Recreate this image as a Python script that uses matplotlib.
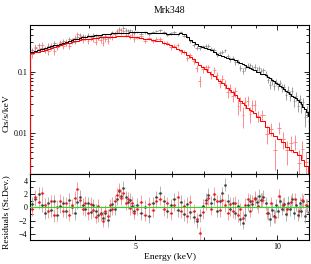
import numpy as np
import matplotlib
matplotlib.use("Agg")
import matplotlib.pyplot as plt
from matplotlib.ticker import FixedLocator, FixedFormatter, NullFormatter, MultipleLocator, LogLocator

# ---------------- data ----------------
black_e = [3.025, 3.075, 3.125, 3.175, 3.225, 3.275, 3.325, 3.375, 3.425, 3.475,
           3.525, 3.575, 3.625, 3.675, 3.725, 3.775, 3.825, 3.875, 3.925, 3.975,
           4.025, 4.075, 4.125, 4.175, 4.225, 4.275, 4.325, 4.375, 4.425, 4.475,
           4.525, 4.575, 4.625, 4.675, 4.725, 4.775, 4.825, 4.875, 4.925, 4.975,
           5.05, 5.15, 5.25, 5.35, 5.45, 5.55, 5.65, 5.75, 5.85, 5.95,
           6.05, 6.15, 6.25, 6.35, 6.45, 6.55, 6.65, 6.75, 6.85, 6.95,
           7.05, 7.15, 7.25, 7.35, 7.45, 7.55, 7.65, 7.75, 7.85, 7.95,
           8.05, 8.15, 8.25, 8.35, 8.45, 8.55, 8.65, 8.75, 8.85, 8.95,
           9.05, 9.15, 9.25, 9.35, 9.45, 9.55, 9.65, 9.75, 9.85, 9.95,
           10.05, 10.15, 10.25, 10.35, 10.45, 10.55, 10.65, 10.75, 10.85, 10.95,
           11.05, 11.15, 11.25, 11.35, 11.45, 11.55, 11.65]
black_w = [0.05] * 40 + [0.1] * 67
black_model = [0.210, 0.218, 0.226, 0.234, 0.242, 0.250, 0.258, 0.267, 0.276, 0.285,
               0.295, 0.305, 0.314, 0.323, 0.333, 0.343, 0.352, 0.362, 0.369, 0.374,
               0.379, 0.384, 0.389, 0.394, 0.400, 0.404, 0.408, 0.411, 0.414, 0.418,
               0.421, 0.425, 0.427, 0.428, 0.430, 0.431, 0.432, 0.433, 0.434, 0.435,
               0.435, 0.434, 0.433, 0.431, 0.428, 0.425, 0.421, 0.417, 0.414, 0.412,
               0.411, 0.414, 0.421, 0.404, 0.362, 0.325, 0.300, 0.281, 0.264, 0.253,
               0.242, 0.231, 0.221, 0.207, 0.195, 0.186, 0.180, 0.174, 0.168, 0.163,
               0.159, 0.152, 0.144, 0.137, 0.131, 0.126, 0.121, 0.116, 0.111, 0.105,
               0.100, 0.097, 0.093, 0.090, 0.087, 0.083, 0.078, 0.074, 0.070, 0.066,
               0.063, 0.059, 0.056, 0.052, 0.049, 0.046, 0.043, 0.041, 0.039, 0.037,
               0.035, 0.032, 0.030, 0.027, 0.025, 0.022, 0.019]
black_resid = [0.5, 1.2, 2.0, 0.3, -0.8, 0.6, -0.4, 0.9, -1.1, 0.2,
               0.7, -0.6, 1.1, 0.0, -0.9, 0.8, 1.6, 0.4, -0.3, 0.6,
               -0.7, 0.3, -0.5, -1.2, -0.8, -1.6, -0.9, -1.9, -0.4, 0.5,
               -0.2, 1.3, 2.4, 1.7, 2.9, 1.5, 0.8, 1.1, 0.2, -0.5,
               0.4, -0.9, 0.1, -1.3, 0.6, 1.5, 2.2, 0.9, -0.6, 0.3,
               1.2, -0.4, 0.8, -1.0, 0.5, -0.7, -1.4, -2.1, -1.2, 0.2,
               1.1, 1.9, 0.7, 1.3, -0.5, 0.9, 2.1, 3.4, 1.0, -0.3,
               0.6, -0.8, 0.2, -1.7, -2.3, -1.1, 0.4, 1.0, 0.5, 1.4,
               0.8, 1.7, 1.1, 1.6, 0.6, -0.9, -1.8, -0.4, -1.3, 0.3,
               -0.6, 0.9, -0.2, 0.5, -1.0, 0.7, -0.3, 1.2, -0.8, 0.4,
               -1.1, 0.6, -0.5, 0.9, -1.3, 0.2, -0.7]
black_exposure = 9000.0

red_e = [3.025, 3.075, 3.125, 3.175, 3.225, 3.275, 3.325, 3.375, 3.425, 3.475,
         3.525, 3.575, 3.625, 3.675, 3.725, 3.775, 3.825, 3.875, 3.925, 3.975,
         4.025, 4.075, 4.125, 4.175, 4.225, 4.275, 4.325, 4.375, 4.425, 4.475,
         4.525, 4.575, 4.625, 4.675, 4.725, 4.775, 4.825, 4.875, 4.925, 4.975,
         5.05, 5.15, 5.25, 5.35, 5.45, 5.55, 5.65, 5.75, 5.85, 5.95,
         6.05, 6.15, 6.25, 6.35, 6.45, 6.55, 6.65, 6.75, 6.85, 6.95,
         7.05, 7.15, 7.25, 7.35, 7.45, 7.55, 7.65, 7.75, 7.85, 7.95,
         8.05, 8.15, 8.25, 8.35, 8.45, 8.55, 8.65, 8.75, 8.85, 8.95,
         9.1, 9.3, 9.5, 9.7, 9.9, 10.1, 10.3, 10.5, 10.7, 10.9,
         11.1, 11.3, 11.5]
red_w = [0.05] * 40 + [0.1] * 40 + [0.2] * 13
red_model = [0.198, 0.205, 0.212, 0.219, 0.226, 0.234, 0.242, 0.251, 0.259, 0.268,
             0.277, 0.288, 0.295, 0.303, 0.310, 0.318, 0.325, 0.333, 0.338, 0.341,
             0.345, 0.349, 0.352, 0.356, 0.360, 0.362, 0.364, 0.366, 0.368, 0.370,
             0.372, 0.374, 0.375, 0.375, 0.374, 0.374, 0.373, 0.372, 0.371, 0.369,
             0.363, 0.354, 0.344, 0.334, 0.326, 0.319, 0.310, 0.297, 0.284, 0.268,
             0.252, 0.237, 0.226, 0.206, 0.188, 0.173, 0.158, 0.143, 0.129, 0.119,
             0.109, 0.099, 0.091, 0.084, 0.077, 0.070, 0.065, 0.060, 0.055, 0.050,
             0.046, 0.042, 0.037, 0.033, 0.031, 0.029, 0.026, 0.024, 0.023, 0.021,
             0.0185, 0.016, 0.0125, 0.0102, 0.0092, 0.0080, 0.0071, 0.0060, 0.0053, 0.0049,
             0.0045, 0.0037, 0.0029]
red_resid = [-0.3, 1.6, 0.8, 2.1, 0.4, -0.6, 0.9, -1.2, 0.1, 1.0,
             -0.5, 0.6, -1.1, 0.3, 1.4, 2.8, 1.1, -0.2, 0.7, -0.9,
             0.5, -0.4, -1.4, 0.2, -1.0, -2.0, -0.6, -1.3, 0.3, -0.2,
             0.9, 1.9, 2.6, 1.4, 2.2, 0.6, 1.3, -0.1, 0.7, -0.8,
             -0.2, 0.8, -1.1, 0.5, -0.4, 0.9, 1.3, -0.3, 0.6, -0.9,
             0.4, 1.5, -0.6, 0.2, -1.3, 0.8, -0.5, -1.8, -3.9, -0.7,
             0.6, 1.4, -0.2, 2.0, 0.9, -0.4, 1.1, 0.3, -0.9, 0.5,
             -0.6, 0.7, -1.2, -0.3, -1.6, 0.4, 1.2, -0.5, 0.9, 1.3,
             0.2, 1.1, -0.8, 0.6, -1.4, 1.7, 0.4, -0.3, 0.8, 1.2,
             -0.6, 1.1, 0.3]
red_exposure = 6000.0

title = "Mrk348"
x_label = "Energy (keV)"
y_label_top = "Cts/s/keV"
y_label_bottom = "Residuals (St.Dev.)"
x_major = [5, 10]
x_major_labels = ["5", "10"]
x_minor = [3, 4, 6, 7, 8, 9, 11]
y_major = [0.01, 0.1]
y_major_labels = ["0.01", "0.1"]
r_major = [-4, -2, 0, 2, 4]

# ---------------- figure ----------------
plt.rcParams['font.family'] = ['Liberation Serif', 'DejaVu Serif']
fig = plt.figure(figsize=(3.11, 2.64), dpi=100)
L, W = 0.0974, 0.8977
ax1 = fig.add_axes([L, 0.3398, W, 0.5644])
ax2 = fig.add_axes([L, 0.0909, W, 0.2489])
Y_LO, Y_HI = 0.00216, 0.566


def prep(e, w, m, r, T):
    e = np.array(e); w = np.array(w); m = np.array(m); r = np.array(r)
    sig = np.sqrt(m * w * T) / (w * T)
    d = m + r * sig
    edges = np.append(e - w / 2, e[-1] + w[-1] / 2)
    return e, w, m, r, sig, d, edges


be, bw, bm, br, bs, bd, bedges = prep(black_e, black_w, black_model, black_resid, black_exposure)
re_, rw, rm, rr, rs, rd, redges = prep(red_e, red_w, red_model, red_resid, red_exposure)

# top panel
ax1.errorbar(be, bd, xerr=bw / 2, yerr=bs, fmt='none', ecolor='#909090', elinewidth=0.6, zorder=2)
ax1.errorbar(re_, rd, xerr=rw / 2, yerr=rs, fmt='none', ecolor='#ff7a7a', elinewidth=0.6, zorder=2)
ax1.stairs(bm, bedges, color='black', linewidth=0.75, zorder=3)
ax1.stairs(rm, redges, color='#ff0000', linewidth=0.75, zorder=3)
ax1.vlines(redges[-1], Y_LO, rm[-1], color='#ff0000', linewidth=0.75, zorder=3)

# residual panel
ax2.errorbar(be, br, xerr=bw / 2, yerr=np.ones_like(br), fmt='none', ecolor='#a8a8a8', elinewidth=0.6, zorder=2)
ax2.errorbar(re_, rr, xerr=rw / 2, yerr=np.ones_like(rr), fmt='none', ecolor='#ff9090', elinewidth=0.6, zorder=2)
ax2.plot(be, br, linestyle='none', marker='s', markersize=0.8, color='#404040', zorder=3)
ax2.plot(re_, rr, linestyle='none', marker='s', markersize=0.8, color='#e02020', zorder=3)
ax2.axhline(0, color='#22dd22', linewidth=0.8, zorder=4)

for ax in (ax1, ax2):
    ax.set_xscale('log')
    ax.set_xlim(3.0, 11.7)
    ax.xaxis.set_major_locator(FixedLocator(x_major))
    ax.xaxis.set_major_formatter(FixedFormatter(x_major_labels))
    ax.xaxis.set_minor_locator(FixedLocator(x_minor))
    ax.xaxis.set_minor_formatter(NullFormatter())
    ax.tick_params(which='both', direction='in', top=True, right=True, labelsize=5.8, width=0.6, pad=2)
    ax.tick_params(which='major', length=3.5)
    ax.tick_params(which='minor', length=2.0)
    for s in ax.spines.values():
        s.set_linewidth(0.8)

ax1.set_yscale('log')
ax1.set_ylim(Y_LO, Y_HI)
ax1.yaxis.set_major_locator(FixedLocator(y_major))
ax1.yaxis.set_major_formatter(FixedFormatter(y_major_labels))
ax1.yaxis.set_minor_locator(LogLocator(base=10, subs=(2, 3, 4, 5, 6, 7, 8, 9)))
ax1.yaxis.set_minor_formatter(NullFormatter())
ax1.tick_params(axis='x', labelbottom=False)

ax2.set_ylim(-4.92, 4.96)
ax2.yaxis.set_major_locator(FixedLocator(r_major))
ax2.yaxis.set_minor_locator(MultipleLocator(1))

fig.text(0.546, 0.962, title, ha='center', va='center', fontsize=7)
fig.text(0.546, 0.028, x_label, ha='center', va='center', fontsize=6.8)
fig.text(0.020, 0.572, y_label_top, ha='center', va='center', rotation=90, fontsize=6.8)
fig.text(0.020, 0.197, y_label_bottom, ha='center', va='center', rotation=90, fontsize=6.8)

fig.savefig('out.png', dpi=100)
